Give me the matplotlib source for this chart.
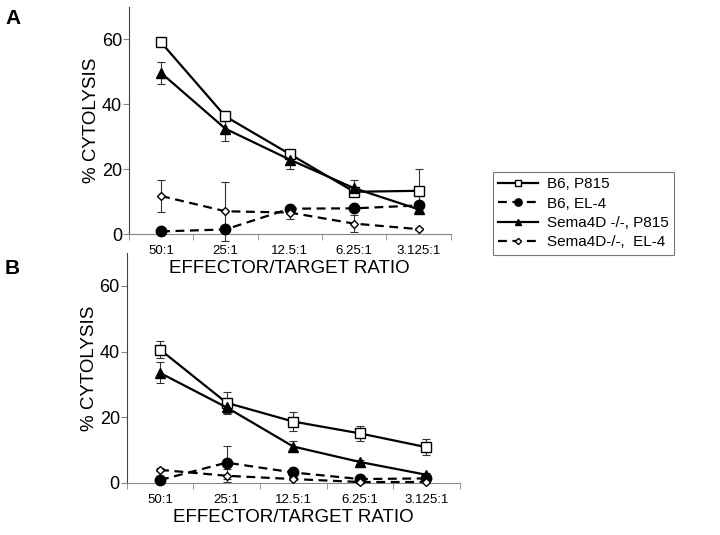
import numpy as np
import matplotlib
matplotlib.use("Agg")
import matplotlib.pyplot as plt

plt.rcParams['font.family'] = ['Liberation Sans', 'DejaVu Sans']

ratios = ["50:1", "25:1", "12.5:1", "6.25:1", "3.125:1"]

# panel A
a_b6_p815 = [59.0, 36.2, 24.6, 13.0, 13.3]
a_b6_p815_err = [1.0, 1.5, 1.2, 1.0, 6.8]
a_b6_el4 = [0.8, 1.4, 7.8, 7.9, 8.8]
a_b6_el4_err = [0.3, 0.3, 0.5, 0.4, 0.5]
a_ko_p815 = [49.6, 32.4, 22.9, 14.1, 7.6]
a_ko_p815_err = [3.3, 3.8, 3.0, 2.4, 1.0]
a_ko_el4 = [11.7, 7.0, 6.6, 3.2, 1.5]
a_ko_el4_err = [4.8, 9.0, 2.0, 2.6, 0.3]

# panel B
b_b6_p815 = [40.6, 24.4, 18.7, 15.1, 10.9]
b_b6_p815_err = [2.5, 3.2, 2.8, 2.3, 2.5]
b_b6_el4 = [0.9, 6.2, 3.2, 1.2, 1.4]
b_b6_el4_err = [0.3, 5.0, 1.5, 0.3, 0.3]
b_ko_p815 = [33.5, 23.0, 11.1, 6.4, 2.5]
b_ko_p815_err = [3.2, 2.0, 1.7, 0.5, 0.5]
b_ko_el4 = [4.0, 2.2, 1.2, 0.3, 0.3]
b_ko_el4_err = [0.5, 2.0, 0.4, 0.2, 0.2]

labels = ["B6, P815", "B6, EL-4", "Sema4D -/-, P815", "Sema4D-/-,  EL-4"]


def panel(ax, series):
    x = np.arange(len(ratios))
    styles = [
        dict(ls="-", marker="s", mfc="white", ms=7),
        dict(ls=(0, (4, 2.5)), marker="o", mfc="black", ms=7.5),
        dict(ls="-", marker="^", mfc="black", ms=6.5),
        dict(ls=(0, (4, 2.5)), marker="D", mfc="white", ms=4.5),
    ]
    handles = []
    for (vals, err), st, lab in zip(series, styles, labels):
        ax.errorbar(x, vals, yerr=err, fmt="none", ecolor="#333333",
                    elinewidth=0.8, capsize=3, capthick=0.8, clip_on=False,
                    zorder=2)
        h, = ax.plot(x, vals, color="black", lw=1.6, ls=st["ls"],
                     marker=st["marker"], mfc=st["mfc"], mec="black",
                     ms=st["ms"], mew=1.0, clip_on=False, label=lab, zorder=3)
        handles.append(h)
    ax.patch.set_visible(False)
    ax.set_xlim(-0.5, 4.5)
    ax.set_ylim(0, 70)
    ax.set_yticks([0, 20, 40, 60])
    ax.set_xticks(x)
    ax.set_xticklabels(ratios, fontsize=9.5)
    ax.set_xticks(np.arange(-0.5, 5.0, 1.0), minor=True)
    ax.tick_params(axis="x", which="major", length=0, pad=8)
    ax.tick_params(axis="x", which="minor", length=4, direction="out",
                   color="#888888")
    ax.tick_params(axis="y", labelsize=13, length=4, color="#888888", pad=1)
    for s in ["top", "right"]:
        ax.spines[s].set_visible(False)
    ax.spines["left"].set_color("#444444")
    ax.spines["bottom"].set_color("#888888")
    ax.set_xlabel("EFFECTOR/TARGET RATIO", fontsize=13.5, labelpad=2)
    ax.set_ylabel("% CYTOLYSIS", fontsize=13.5, labelpad=1)
    return handles


fig = plt.figure(figsize=(7.2, 5.35), dpi=100)
ax_a = fig.add_axes([0.179, 0.5626, 0.447, 0.425])
ax_b = fig.add_axes([0.176, 0.0972, 0.4625, 0.430])

handles = panel(ax_a, [(a_b6_p815, a_b6_p815_err), (a_b6_el4, a_b6_el4_err),
                       (a_ko_p815, a_ko_p815_err), (a_ko_el4, a_ko_el4_err)])
panel(ax_b, [(b_b6_p815, b_b6_p815_err), (b_b6_el4, b_b6_el4_err),
             (b_ko_p815, b_ko_p815_err), (b_ko_el4, b_ko_el4_err)])

fig.text(0.007, 0.966, "A", fontsize=15, fontweight="bold", va="center")
fig.text(0.007, 0.499, "B", fontsize=15, fontweight="bold", va="center")

leg = fig.legend(handles=handles, loc="upper left",
                 bbox_to_anchor=(493 / 720, 1 - 172 / 535), fontsize=11,
                 frameon=True, fancybox=False, edgecolor="#555555",
                 handlelength=2.6, borderpad=0.35, labelspacing=0.35,
                 handletextpad=0.6, borderaxespad=0, markerscale=0.7)
leg.get_frame().set_linewidth(0.8)

fig.savefig("out.png", dpi=100)
